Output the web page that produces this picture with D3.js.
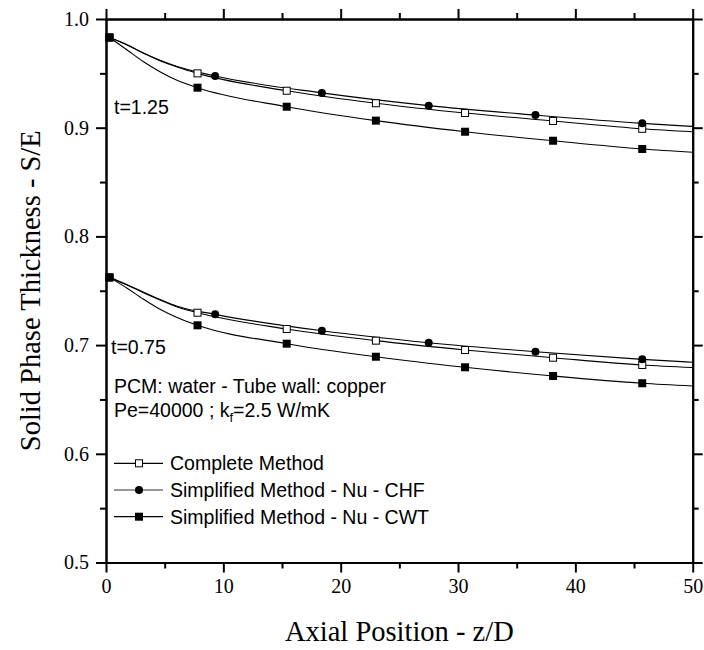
<!DOCTYPE html>
<html>
<head>
<meta charset="utf-8">
<script src="https://cdn.jsdelivr.net/npm/d3@7"></script>
<style>
  html, body { margin: 0; padding: 0; background: #fff; }
  svg { display: block; }
  .tick text { font-family: "Liberation Serif", "Times New Roman", serif; font-size: 20px; fill: #000; }
  .axis path, .axis line { stroke: #000; stroke-width: 2; }
  .note { font-family: "Liberation Sans", Arial, sans-serif; font-size: 19.5px; fill: #000; }
  .title { font-family: "Liberation Serif", "Times New Roman", serif; font-size: 28.5px; fill: #000; }
</style>
</head>
<body>
<svg id="chart" width="704" height="650"></svg>
<script>
// Axial positions (z/D) where markers sit, per method
const completeZ = [0.3, 7.8, 15.4, 23, 30.6, 38.1, 45.7];
const chfZ      = [0.3, 9.3, 18.4, 27.5, 36.6, 45.7];
const cwtZ      = [0.3, 7.8, 15.4, 23, 30.6, 38.1, 45.7];

// Extra curve samples near the inlet and at the outlet
const leadZ = [1.8, 3.2, 4.6, 6.0];
const endZ  = 50;

// t = 1.25
const completeHi     = [0.983, 0.950, 0.934, 0.9225, 0.9135, 0.9062, 0.899];
const completeHiLead = [0.9761, 0.9684, 0.9617, 0.9561];
const completeHiEnd  = 0.8962;
const chfHi          = [0.983, 0.9476, 0.932, 0.9203, 0.9116, 0.904];
const chfHiLead      = [0.9763, 0.9687, 0.962, 0.9565];
const chfHiEnd       = 0.9012;
const cwtHi          = [0.983, 0.9368, 0.9193, 0.9065, 0.8963, 0.888, 0.8804];
const cwtHiLead      = [0.9715, 0.9607, 0.9515, 0.9439];
const cwtHiEnd       = 0.8774;

// t = 0.75
const completeLo     = [0.7623, 0.7298, 0.7148, 0.7041, 0.6955, 0.6884, 0.6817];
const completeLoLead = [0.7553, 0.7482, 0.7415, 0.7353];
const completeLoEnd  = 0.6794;
const chfLo          = [0.7623, 0.7283, 0.7132, 0.7022, 0.6939, 0.6869];
const chfLoLead      = [0.7556, 0.7486, 0.742, 0.7359];
const chfLoEnd       = 0.6842;
const cwtLo          = [0.7623, 0.7182, 0.7013, 0.6893, 0.6796, 0.6716, 0.6649];
const cwtLoLead      = [0.7523, 0.7421, 0.7329, 0.7256];
const cwtLoEnd       = 0.6624;

const xTicks = [0, 10, 20, 30, 40, 50];
const xMinor = [5, 15, 25, 35, 45];
const yTicks = [0.5, 0.6, 0.7, 0.8, 0.9, 1.0];
const yMinor = [0.55, 0.65, 0.75, 0.85, 0.95];

const legendLabels = ["Complete Method", "Simplified Method - Nu - CHF", "Simplified Method - Nu - CWT"];
const timeLabels = ["t=1.25", "t=0.75"];
const noteLines = ["PCM: water - Tube wall: copper"];

const svg = d3.select("#chart");
const plotL = 106, plotR = 692.7, plotT = 19, plotB = 562.5;
const x = d3.scaleLinear().domain([0, 50]).range([plotL, plotR]);
const y = d3.scaleLinear().domain([0.5, 1.0]).range([plotB, plotT]);

// Axes: majors with labels on left/bottom, plain ticks on top/right, minors everywhere
function axisGroup(axis, transform, labels) {
  const g = svg.append("g").attr("class", "axis").attr("transform", transform).call(axis);
  if (!labels) g.selectAll(".tick text").remove();
  return g;
}
axisGroup(d3.axisBottom(x).tickValues(xTicks).tickSize(10).tickSizeOuter(0).tickPadding(6).tickFormat(d3.format("d")), `translate(0,${plotB})`, true);
axisGroup(d3.axisBottom(x).tickValues(xMinor).tickSize(6).tickSizeOuter(0), `translate(0,${plotB})`, false);
axisGroup(d3.axisTop(x).tickValues(xTicks).tickSize(10).tickSizeOuter(0), `translate(0,${plotT})`, false);
axisGroup(d3.axisTop(x).tickValues(xMinor).tickSize(6).tickSizeOuter(0), `translate(0,${plotT})`, false);
axisGroup(d3.axisLeft(y).tickValues(yTicks).tickSize(10).tickSizeOuter(0).tickPadding(7).tickFormat(d3.format(".1f")), `translate(${plotL},0)`, true);
axisGroup(d3.axisLeft(y).tickValues(yMinor).tickSize(6).tickSizeOuter(0), `translate(${plotL},0)`, false);
axisGroup(d3.axisRight(y).tickValues(yTicks).tickSize(10).tickSizeOuter(0), `translate(${plotR},0)`, false);
axisGroup(d3.axisRight(y).tickValues(yMinor).tickSize(6).tickSizeOuter(0), `translate(${plotR},0)`, false);
svg.selectAll(".axis .tick text").attr("fill", "#000");

// Curves
const line = d3.line().x(d => x(d[0])).y(d => y(d[1])).curve(d3.curveMonotoneX);
function series(markZ, vals, lead, end) {
  const pts = markZ.map((z, i) => [z, vals[i]]);
  lead.forEach((v, i) => pts.push([leadZ[i], v]));
  pts.push([endZ, end]);
  pts.sort((a, b) => a[0] - b[0]);
  return { pts, marks: markZ.map((z, i) => [z, vals[i]]) };
}
const groups = [
  { kind: "square-open", s: series(completeZ, completeHi, completeHiLead, completeHiEnd) },
  { kind: "circle",      s: series(chfZ, chfHi, chfHiLead, chfHiEnd) },
  { kind: "square",      s: series(cwtZ, cwtHi, cwtHiLead, cwtHiEnd) },
  { kind: "square-open", s: series(completeZ, completeLo, completeLoLead, completeLoEnd) },
  { kind: "circle",      s: series(chfZ, chfLo, chfLoLead, chfLoEnd) },
  { kind: "square",      s: series(cwtZ, cwtLo, cwtLoLead, cwtLoEnd) }
];
const curves = svg.append("g");
groups.forEach(g => {
  curves.append("path").attr("d", line(g.s.pts)).attr("fill", "none").attr("stroke", "#000").attr("stroke-width", 1.1);
});

function marker(sel, kind, cx, cy) {
  if (kind === "circle") {
    sel.append("circle").attr("cx", cx).attr("cy", cy).attr("r", 4).attr("fill", "#000");
  } else if (kind === "square") {
    sel.append("rect").attr("x", cx - 4).attr("y", cy - 4).attr("width", 8).attr("height", 8).attr("fill", "#000");
  } else {
    sel.append("rect").attr("x", cx - 3.5).attr("y", cy - 3.5).attr("width", 7).attr("height", 7)
      .attr("fill", "#fff").attr("stroke", "#000").attr("stroke-width", 1);
  }
}
const marks = svg.append("g");
groups.forEach(g => g.s.marks.forEach(p => marker(marks, g.kind, x(p[0]), y(p[1]))));

// Annotations
svg.append("text").attr("class", "note").attr("x", 114).attr("y", 114).text(timeLabels[0]);
svg.append("text").attr("class", "note").attr("x", 111).attr("y", 354).text(timeLabels[1]);
svg.append("text").attr("class", "note").attr("x", 114).attr("y", 392.5).text(noteLines[0]);
const pe = svg.append("text").attr("class", "note").attr("x", 114).attr("y", 416.5);
pe.append("tspan").text("Pe=40000 ; k");
pe.append("tspan").attr("dy", 5).style("font-size", "13px").text("f");
pe.append("tspan").attr("dy", -5).text("=2.5 W/mK");

// Legend
const legendY = [463.3, 490, 516.7];
const legendKinds = ["square-open", "circle", "square"];
const legendStroke = ["#000", "#777", "#000"];
const lg = svg.append("g");
legendLabels.forEach((lab, i) => {
  lg.append("line").attr("x1", 114).attr("x2", 163).attr("y1", legendY[i]).attr("y2", legendY[i])
    .attr("stroke", legendStroke[i]).attr("stroke-width", 1.3);
  marker(lg, legendKinds[i], 139, legendY[i]);
  lg.append("text").attr("class", "note").attr("x", 170).attr("y", legendY[i] + 7).text(lab);
});

// Axis titles
svg.append("text").attr("class", "title").attr("text-anchor", "middle")
  .attr("x", (plotL + plotR) / 2).attr("y", 641).text("Axial Position - z/D");
svg.append("text").attr("class", "title").attr("text-anchor", "middle")
  .attr("transform", `translate(40,${(plotT + plotB) / 2}) rotate(-90)`).text("Solid Phase Thickness - S/E");
</script>
</body>
</html>
